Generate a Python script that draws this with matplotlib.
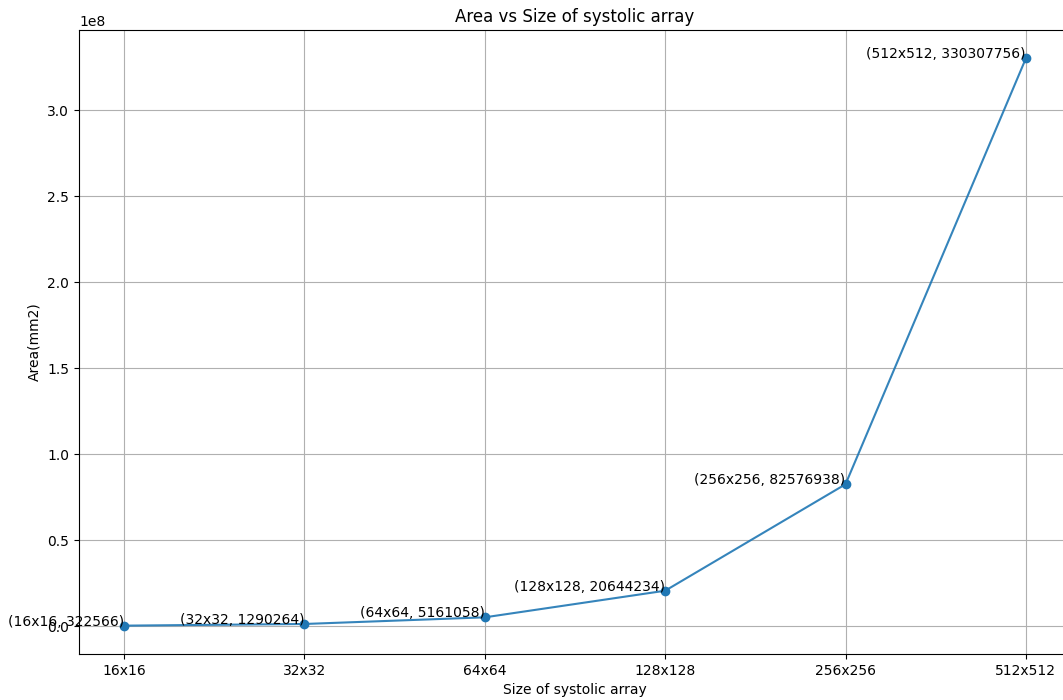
import matplotlib.pyplot as plt

sizes = ['16x16', '32x32', '64x64', '128x128', '256x256', '512x512']
areas = [322566, 1290264, 5161058, 20644234, 82576938, 330307756]

fig = plt.figure(figsize=(10.63, 7), dpi=100)
ax = fig.add_axes([0.0743, 0.0657, 0.9332, 0.8914])

x = list(range(len(sizes)))
ax.plot(x, areas, color='tab:blue', alpha=0.9)
ax.plot(x, areas, 'o', color='tab:blue')

# label each point with its size and area
for xi, s, a in zip(x, sizes, areas):
    ax.text(xi, a, f"({s}, {a})", ha='right')

ax.set_xticks(x)
ax.set_xticklabels(sizes)
ax.set_xlabel("Size of systolic array")
ax.set_ylabel("Area(mm2)")
ax.set_title("Area vs Size of systolic array")
ax.grid(True)

fig.savefig("out.png", dpi=100)
